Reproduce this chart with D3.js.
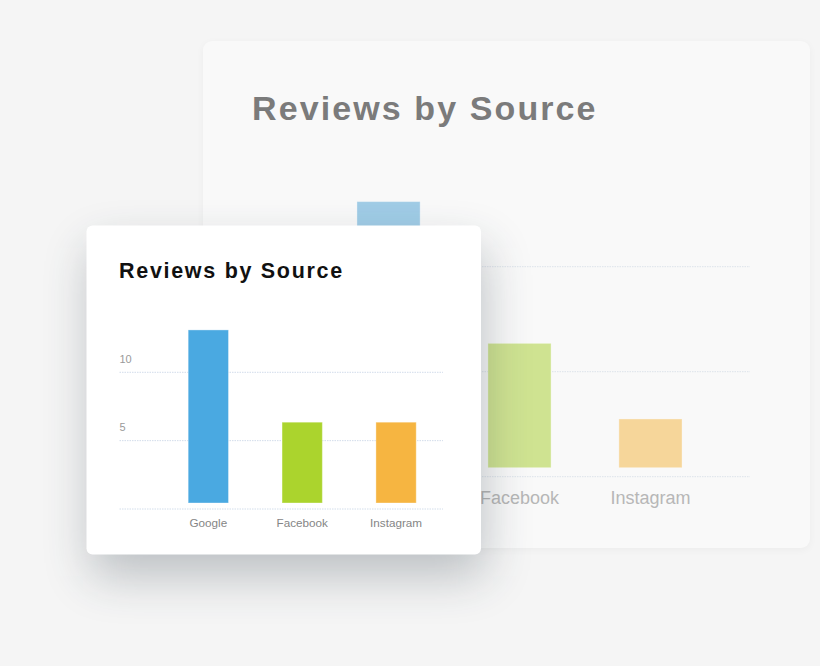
<!DOCTYPE html>
<html>
<head>
    <meta charset="utf-8">
    <style>
        body {
            margin: 0;
            background: #f5f5f5;
            font-family: 'Liberation Sans', Arial, sans-serif;
        }
        svg {
            display: block;
        }
    </style>
</head>
<body>
    <svg width="820" height="666"></svg>

<script src="https://d3js.org/d3.v7.min.js"></script>
<script>
    // data
    const sources = ["Google", "Facebook", "Instagram"]
    const frontValues = [13.1, 6.35, 6.35]   // small card in front
    const backValues = [13.1, 6.35, 2.75]    // big faded card behind
    const yTicks = [0, 5, 10]
    const title = "Reviews by Source"

    const frontColors = ["#4aa9e1", "#abd42d", "#f6b541"]
    const backColors = ["#a0cce6", "#cfe391", "#f6d69a"]

    const svg = d3.select("svg")
    const defs = svg.append("defs")

    // soft blur used for the card shadows, big region so nothing gets clipped
    defs.append("filter").attr("id", "softBlur")
        .attr("filterUnits", "userSpaceOnUse")
        .attr("x", -100).attr("y", -100).attr("width", 1020).attr("height", 866)
        .append("feGaussianBlur")
        .attr("stdDeviation", 24)

    defs.append("filter").attr("id", "faintBlur")
        .attr("filterUnits", "userSpaceOnUse")
        .attr("x", -100).attr("y", -100).attr("width", 1020).attr("height", 866)
        .append("feGaussianBlur")
        .attr("stdDeviation", 4)

    // one function, both cards use it with their own sizes
    function drawChart(g, o) {
        // shadow first, then the card on top
        g.append("rect")
            .attr("x", o.card[0] + o.shadowOff[0]).attr("y", o.card[1] + o.shadowOff[1])
            .attr("width", o.card[2]).attr("height", o.card[3])
            .attr("rx", o.radius)
            .style("fill", o.shadowColor)
            .style("opacity", o.shadowOpacity)
            .style("filter", o.shadowFilter)

        g.append("rect")
            .attr("x", o.card[0]).attr("y", o.card[1])
            .attr("width", o.card[2]).attr("height", o.card[3])
            .attr("rx", o.radius)
            .style("fill", o.cardFill)

        g.append("text")
            .attr("x", o.titleX).attr("y", o.titleY)
            .text(title)
            .style("font-size", o.titleSize + "px")
            .style("font-weight", "bold")
            .style("letter-spacing", o.titleSpacing + "px")
            .style("fill", o.titleColor)

        let x = d3.scaleBand()
            .domain(sources)
            .range(o.xRange)
            .paddingInner(o.padIn)
            .paddingOuter(o.padOut)

        let y = d3.scaleLinear()
            .domain([0, 10])
            .range(o.yRange)

        // dotted grid lines
        g.append("g")
            .selectAll("line")
            .data(yTicks)
            .join("line")
            .attr("x1", o.gridLeft)
            .attr("x2", o.xRange[1])
            .attr("y1", d => y(d))
            .attr("y2", d => y(d))
            .style("stroke", o.gridColor)
            .style("stroke-width", 1)
            .style("stroke-dasharray", "1.5,1")

        // tick labels sit above their line
        g.append("g")
            .selectAll("text")
            .data(yTicks.filter(d => d > 0))
            .join("text")
            .attr("x", o.gridLeft)
            .attr("y", d => y(d) - o.tickLift)
            .text(d => d)
            .style("font-size", o.tickSize + "px")
            .style("fill", o.tickColor)

        g.append("g")
            .selectAll("rect")
            .data(o.values)
            .join("rect")
            .attr("x", (d, i) => x(sources[i]) + 0.5)
            .attr("width", x.bandwidth() - 1)
            .attr("y", d => y(d))
            .attr("height", d => y(0) - y(d) - o.barGap)
            .style("fill", (d, i) => o.colors[i])
            .style("stroke", "#fff")
            .style("stroke-opacity", 0.35)
            .style("stroke-width", 1)

        g.append("g")
            .selectAll("text")
            .data(sources)
            .join("text")
            .attr("x", d => x(d) + x.bandwidth() / 2)
            .attr("y", y(0) + o.labelDrop)
            .attr("text-anchor", "middle")
            .text(d => d)
            .style("font-size", o.labelSize + "px")
            .style("fill", o.labelColor)
    }

    drawChart(svg.append("g"), {
        card: [203, 41, 607, 507], radius: 9, cardFill: "#f9f9f9",
        shadowOff: [0, 2], shadowColor: "#000", shadowOpacity: 0.035, shadowFilter: "url(#faintBlur)",
        titleX: 252, titleY: 119.5, titleSize: 34, titleSpacing: 2.1, titleColor: "#7b7b7b",
        values: backValues, colors: backColors,
        xRange: [289, 750], padIn: 0.51, padOut: 0.515,
        yRange: [476.7, 266.7], gridLeft: 252, gridColor: "#dde3ea",
        tickLift: 14, tickSize: 17, tickColor: "#c4c4c4",
        barGap: 9, labelDrop: 27.5, labelSize: 18, labelColor: "#b7b7b7"
    })

    drawChart(svg.append("g"), {
        card: [86.5, 225.5, 394.5, 329], radius: 6, cardFill: "#ffffff",
        shadowOff: [4, 22], shadowColor: "#24313d", shadowOpacity: 0.27, shadowFilter: "url(#softBlur)",
        titleX: 119, titleY: 277.5, titleSize: 21.5, titleSpacing: 1.7, titleColor: "#111111",
        values: frontValues, colors: frontColors,
        xRange: [161.4, 443], padIn: 0.56, padOut: 0.28,
        yRange: [509, 372.3], gridLeft: 119.5, gridColor: "#d2ddeb",
        tickLift: 9.5, tickSize: 11, tickColor: "#9a9a9a",
        barGap: 6, labelDrop: 18, labelSize: 11.7, labelColor: "#858585"
    })
</script>
</body>
</html>
